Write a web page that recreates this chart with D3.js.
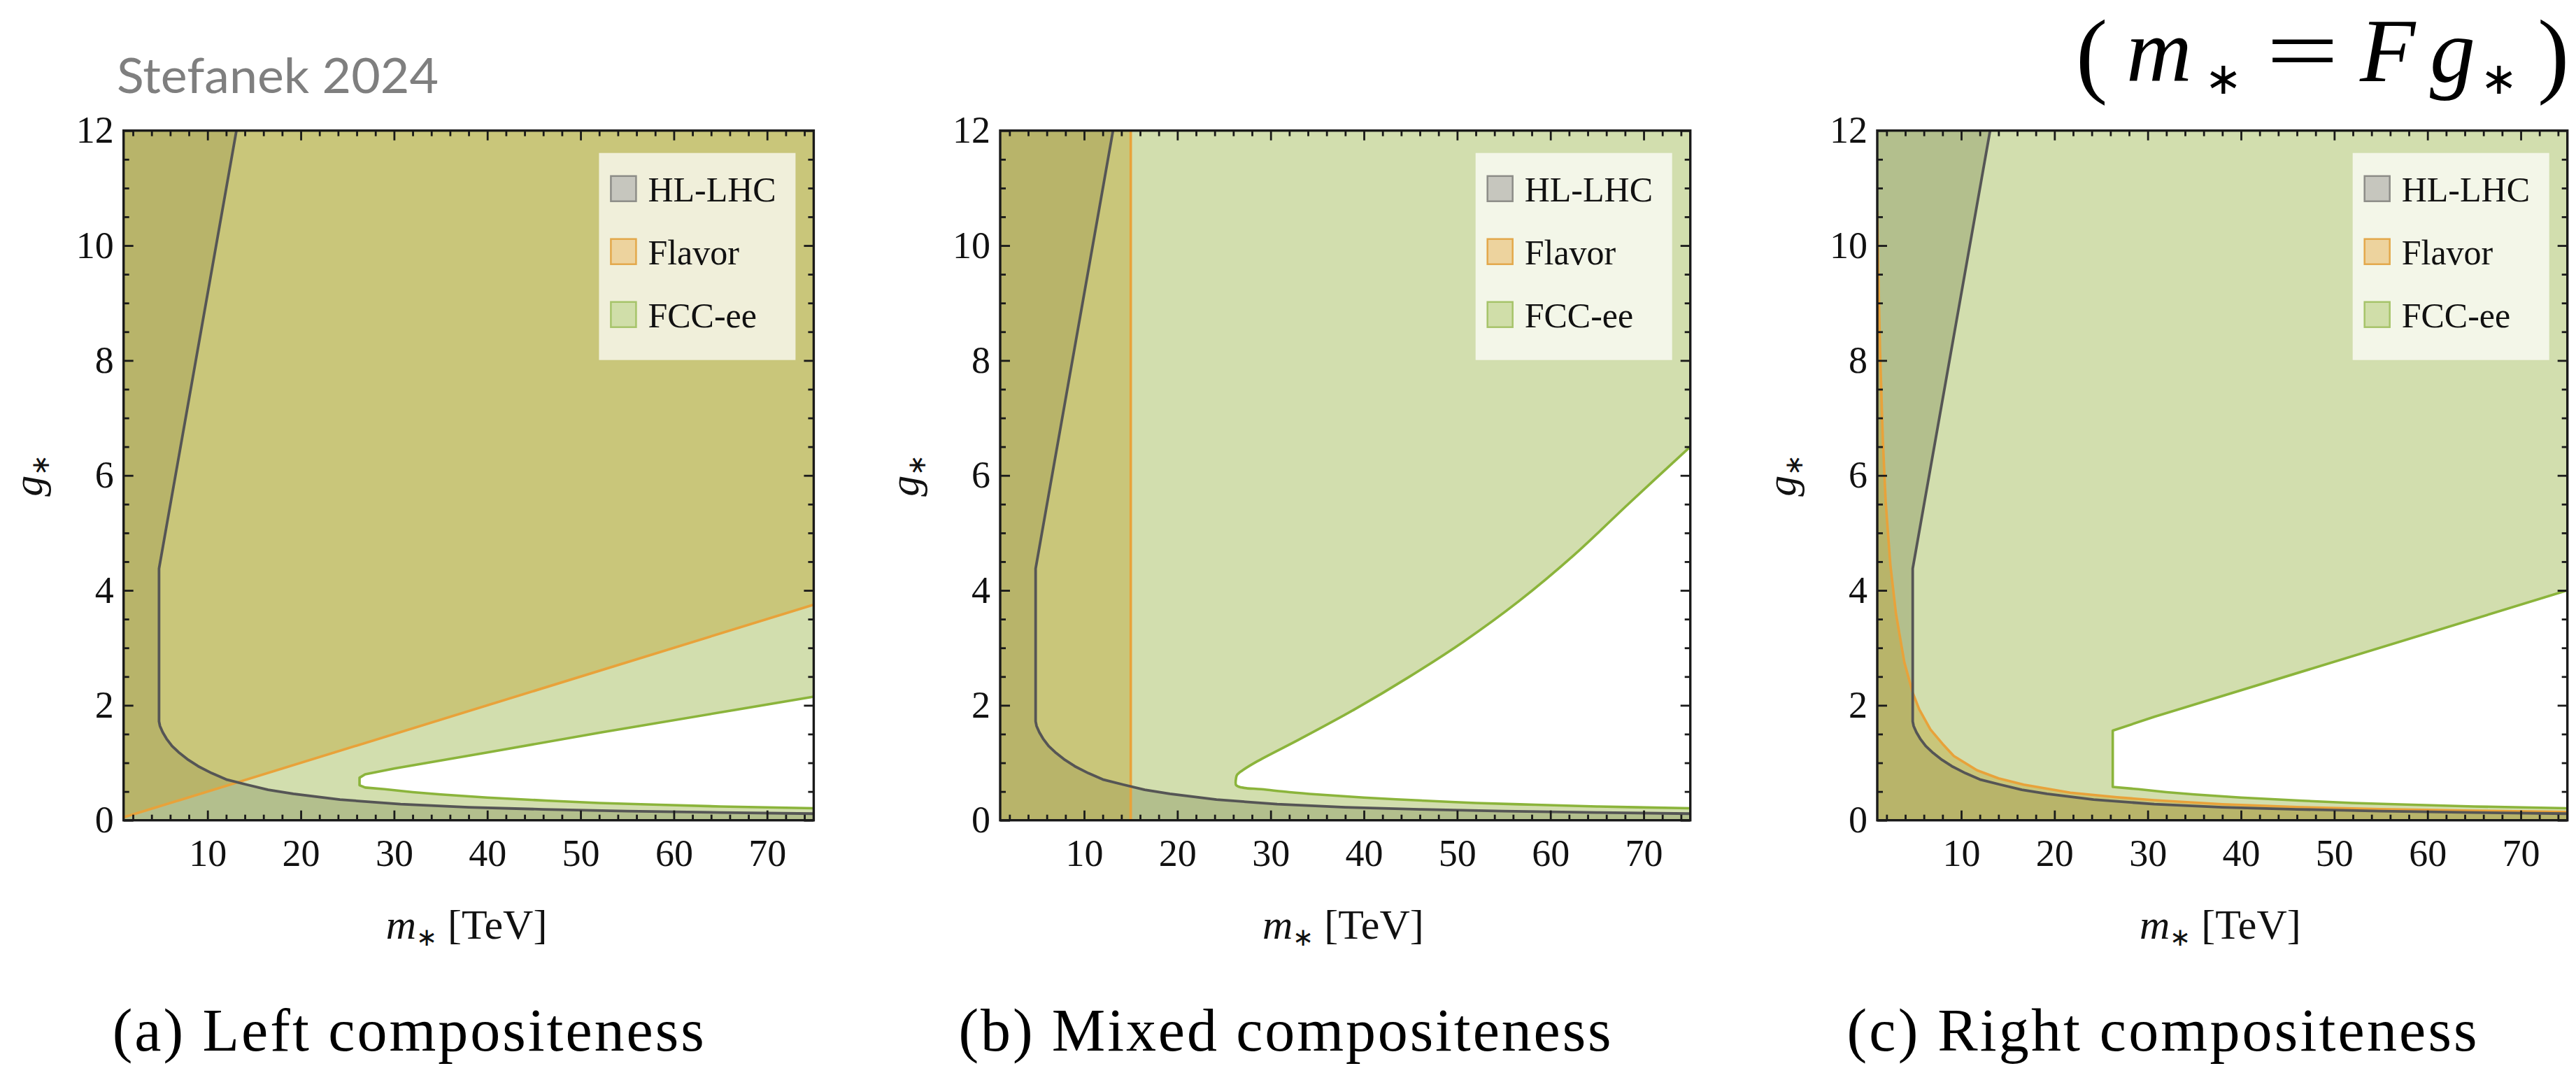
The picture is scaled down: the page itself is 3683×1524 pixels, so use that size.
<!DOCTYPE html>
<html><head><meta charset="utf-8">
<script src="https://cdn.jsdelivr.net/npm/d3@7"></script>
<style>body{margin:0;background:#fff;} svg{display:block}</style>
</head><body>
<svg id="chart" width="3683" height="1524"></svg>
<script>
// ---------------- data ----------------
const xDomain = [1, 75];
const yDomain = [0, 12];
const xMajorTicks = [10, 20, 30, 40, 50, 60, 70];
const xMinorTicks = [2,4,6,8,12,14,16,18,22,24,26,28,32,34,36,38,42,44,46,48,52,54,56,58,62,64,66,68,72,74];
const yMajorTicks = [0, 2, 4, 6, 8, 10, 12];
const yMinorTicks = [0.5,1,1.5,2.5,3,3.5,4.5,5,5.5,6.5,7,7.5,8.5,9,9.5,10.5,11,11.5];
const captions = ["(a) Left compositeness", "(b) Mixed compositeness", "(c) Right compositeness"];
const legendLabels = ["HL-LHC", "Flavor", "FCC-ee"];

// HL-LHC exclusion boundary (same in all panels), points (m*, g*)
const hlBoundary = [[13.1,12],[4.8,4.38],[4.8,1.72],[4.9,1.64],[5.2,1.53],[5.6,1.42],[6.2,1.29],[7,1.17],[7.95,1.05],[9,0.94],[10.45,0.82],[12,0.71],[14.2,0.62],[16.5,0.53],[19.2,0.46],[24.2,0.36],[30.7,0.28],[38,0.225],[46,0.19],[55,0.16],[65,0.135],[75,0.115]];

// Flavor boundaries
const flavorA = [[1,0.05],[75,3.75]];          // excluded above
const flavorB = [[15,0],[15,12]];              // excluded to the left
const flavorC = [[1.0,10.6],[1.1,9.6],[1.3,8.15],[1.6,6.6],[1.9,5.55],[2.4,4.45],[3.0,3.6],[3.9,2.75],[4.8,2.22],[5.5,1.93],[6.7,1.58],[8,1.33],[9.2,1.12],[11.7,0.87],[14,0.73],[16.7,0.62],[21.7,0.48],[26.7,0.40],[30.7,0.35],[38,0.28],[46,0.23],[55,0.195],[65,0.165],[75,0.145]]; // excluded below

// FCC-ee allowed (white) region boundaries
const fccHoleA = [[75,2.15],[52.25,1.53],[40,1.18],[30,0.9],[26.9,0.8],[26.3,0.74],[26.3,0.61],[26.9,0.57],[29,0.54],[32,0.49],[35,0.45],[40,0.395],[46.6,0.34],[52,0.30],[58.4,0.27],[65,0.24],[75,0.21]];
const fccHoleB = [[75,6.5],[68.4,5.51],[62.5,4.61],[56.6,3.81],[50.7,3.11],[44.8,2.49],[39,1.93],[33.1,1.41],[28.5,1.02],[27,0.87],[26.4,0.79],[26.3,0.74],[26.3,0.61],[26.9,0.57],[29,0.54],[32,0.49],[35,0.45],[40,0.395],[46.6,0.34],[52,0.30],[58.4,0.27],[65,0.24],[75,0.21]];
const fccHoleC = [[75,4.0],[30.7,1.8],[26.25,1.56],[26.25,0.58],[29,0.54],[32,0.49],[35,0.45],[40,0.395],[46.6,0.34],[52,0.30],[58.4,0.27],[65,0.24],[75,0.21]];

// ---------------- layout ----------------
const svg = d3.select("#chart");
const PW = 986.7, PH = 986, TOP = 186.7;
const lefts = [176.7, 1430, 2684];
const captionLen = [846, 933, 901];
const x = d3.scaleLinear().domain(xDomain).range([0, PW]);
const y = d3.scaleLinear().domain(yDomain).range([PH, 0]);
const line = d3.line().x(d => x(d[0])).y(d => y(d[1]));
const smooth = d3.line().x(d => x(d[0])).y(d => y(d[1])).curve(d3.curveCatmullRom.alpha(0.5));
const holeLine = [line, smooth, line];

const COL = {fcc:"#d2deae", flav:"#c9c67a", hl:"#b3bf8d", hlflav:"#b8b46a",
  lineHL:"#555555", lineFl:"#e8a23a", lineFcc:"#8bb43b", frame:"#1a1a1a", text:"#111"};
const swFill = ["#c6c6be", "#edd39e", "#d0dea9"];
const swStroke = ["#8d8d88", "#e3a84b", "#a6c46a"];
const SERIF = "'Liberation Serif', 'Times New Roman', serif";

const flavorRegions = [
  flavorA.concat([[75,12],[1,12]]),
  [[1,0]].concat(flavorB, [[1,12]]),
  flavorC.concat([[75,0],[1,0]])
];
const flavorLines = [flavorA, flavorB, flavorC];
const holes = [fccHoleA, fccHoleB, fccHoleC];
const hlRegion = hlBoundary.concat([[75,0],[1,0],[1,12]]);

const defs = svg.append("defs");

[0,1,2].forEach(i => {
  const g = svg.append("g").attr("transform", `translate(${lefts[i]},${TOP})`);
  defs.append("clipPath").attr("id", "plot" + i).append("rect").attr("width", PW).attr("height", PH);
  defs.append("clipPath").attr("id", "flav" + i).append("path").attr("d", line(flavorRegions[i]) + "Z");

  const pg = g.append("g").attr("clip-path", `url(#plot${i})`);
  pg.append("rect").attr("width", PW).attr("height", PH).attr("fill", COL.fcc);
  pg.append("path").attr("d", holeLine[i](holes[i]) + "Z").attr("fill", "#fff");
  pg.append("path").attr("d", line(flavorRegions[i]) + "Z").attr("fill", COL.flav);
  pg.append("path").attr("d", line(hlRegion) + "Z").attr("fill", COL.hl);
  pg.append("g").attr("clip-path", `url(#flav${i})`)
    .append("path").attr("d", line(hlRegion) + "Z").attr("fill", COL.hlflav);

  pg.append("path").attr("d", holeLine[i](holes[i])).attr("fill", "none")
    .attr("stroke", COL.lineFcc).attr("stroke-width", 3.6).attr("stroke-linejoin", "round");
  pg.append("path").attr("d", line(flavorLines[i])).attr("fill", "none")
    .attr("stroke", COL.lineFl).attr("stroke-width", 3.6).attr("stroke-linejoin", "round");
  pg.append("path").attr("d", line(hlBoundary)).attr("fill", "none")
    .attr("stroke", COL.lineHL).attr("stroke-width", 3.8).attr("stroke-linejoin", "round");

  // axes (ticks inward on all four sides)
  const styleAxis = sel => {
    sel.select(".domain").remove();
    sel.selectAll(".tick line").attr("stroke", COL.frame).attr("stroke-width", 2.8);
    sel.selectAll("text").attr("fill", COL.text).attr("font-family", SERIF).attr("font-size", 54);
  };
  g.append("g").attr("transform", `translate(0,${PH})`)
    .call(d3.axisBottom(x).tickValues(xMajorTicks).tickSize(-14).tickPadding(27).tickFormat(d3.format("d"))).call(styleAxis);
  g.append("g").attr("transform", `translate(0,${PH})`)
    .call(d3.axisBottom(x).tickValues(xMinorTicks).tickSize(-8).tickFormat("")).call(styleAxis);
  g.append("g")
    .call(d3.axisTop(x).tickValues(xMajorTicks).tickSize(-14).tickFormat("")).call(styleAxis);
  g.append("g")
    .call(d3.axisTop(x).tickValues(xMinorTicks).tickSize(-8).tickFormat("")).call(styleAxis);
  g.append("g")
    .call(d3.axisLeft(y).tickValues(yMajorTicks).tickSize(-14).tickPadding(14).tickFormat(d3.format("d"))).call(styleAxis);
  g.append("g")
    .call(d3.axisLeft(y).tickValues(yMinorTicks).tickSize(-8).tickFormat("")).call(styleAxis);
  g.append("g").attr("transform", `translate(${PW},0)`)
    .call(d3.axisRight(y).tickValues(yMajorTicks).tickSize(-14).tickFormat("")).call(styleAxis);
  g.append("g").attr("transform", `translate(${PW},0)`)
    .call(d3.axisRight(y).tickValues(yMinorTicks).tickSize(-8).tickFormat("")).call(styleAxis);

  g.append("rect").attr("width", PW).attr("height", PH).attr("fill", "none")
    .attr("stroke", COL.frame).attr("stroke-width", 3.4);

  // legend
  const lg = g.append("g").attr("transform", `translate(${PW - 307},32)`);
  lg.append("rect").attr("width", 281).attr("height", 296).attr("fill", "#fff").attr("fill-opacity", 0.72);
  legendLabels.forEach((t, j) => {
    const yy = 33 + j * 90;
    lg.append("rect").attr("x", 17).attr("y", yy).attr("width", 36).attr("height", 36)
      .attr("fill", swFill[j]).attr("stroke", swStroke[j]).attr("stroke-width", 2.5);
    lg.append("text").attr("x", 70).attr("y", yy + 36).text(t)
      .attr("font-family", SERIF).attr("font-size", 50).attr("fill", COL.text);
  });

  // axis labels
  const yl = svg.append("text")
    .attr("transform", `translate(${lefts[i] - 117},${TOP + PH / 2}) rotate(-90)`)
    .attr("text-anchor", "middle").attr("font-family", SERIF).attr("font-size", 60).attr("fill", COL.text);
  yl.append("tspan").attr("font-style", "italic").text("g");
  yl.append("tspan").attr("font-size", 36).attr("dy", 10).text("∗");

  const xl = svg.append("text")
    .attr("x", lefts[i] + PW / 2 - 3).attr("y", 1342)
    .attr("text-anchor", "middle").attr("font-family", SERIF).attr("font-size", 60).attr("fill", COL.text);
  xl.append("tspan").attr("font-style", "italic").text("m");
  xl.append("tspan").attr("font-size", 36).attr("dy", 10).text("∗");
  xl.append("tspan").attr("dy", -10).text(" [TeV]");

  svg.append("text").attr("x", lefts[i] + 407).attr("y", 1502)
    .attr("text-anchor", "middle").attr("font-family", SERIF).attr("font-size", 86)
    .attr("textLength", captionLen[i]).attr("lengthAdjust", "spacing")
    .attr("fill", "#000").text(captions[i]);
});

// watermark
svg.append("text").attr("x", 167).attr("y", 133).text("Stefanek 2024")
  .attr("font-family", "Lato, 'Open Sans', sans-serif").attr("font-size", 70)
  .attr("textLength", 460).attr("lengthAdjust", "spacingAndGlyphs").attr("fill", "#7f7f7f");

// formula ( m* = F g* )
const fm = svg.append("g").attr("font-family", SERIF).attr("fill", "#000");
fm.append("text").attr("x", 2968).attr("y", 122).attr("font-size", 136).text("(");
fm.append("text").attr("x", 3040).attr("y", 116).attr("font-size", 130).attr("font-style", "italic").text("m");
fm.append("text").attr("x", 3152).attr("y", 134).attr("font-size", 64).text("∗");
fm.append("text").attr("x", 3240).attr("y", 116).attr("font-size", 130)
  .attr("textLength", 104).attr("lengthAdjust", "spacingAndGlyphs").text("=");
fm.append("text").attr("x", 3374).attr("y", 116).attr("font-size", 130).attr("font-style", "italic").text("F");
fm.append("text").attr("x", 3474).attr("y", 116).attr("font-size", 130).attr("font-style", "italic").text("g");
fm.append("text").attr("x", 3546).attr("y", 134).attr("font-size", 64).text("∗");
fm.append("text").attr("x", 3628).attr("y", 122).attr("font-size", 136).text(")");
</script>
</body></html>
